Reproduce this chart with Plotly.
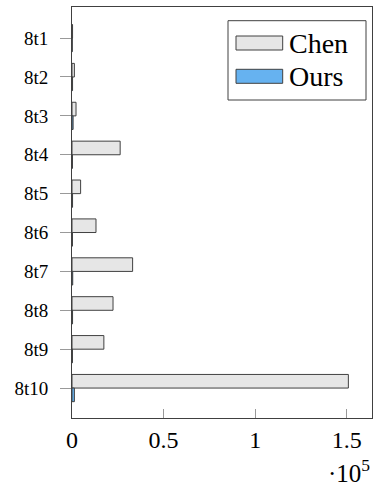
import plotly.graph_objects as go

# Runtime per instance (values in units; axis shown as multiples of 10^5)
instances = ["8t1", "8t2", "8t3", "8t4", "8t5", "8t6", "8t7", "8t8", "8t9", "8t10"]
chen_values = [300, 1300, 2200, 26300, 4700, 13100, 33100, 22400, 17400, 150900]
ours_values = [150, 300, 600, 250, 300, 250, 400, 300, 250, 1300]

x_tick_values = [0, 50000, 100000, 150000]
x_tick_labels = ["0", "0.5", "1", "1.5"]

FONT = "Liberation Serif"
CHEN_FILL = "#e6e6e6"
OURS_FILL = "#66b2f0"
EDGE = "#404040"

W, H = 376, 489
M_L, M_R, M_T, M_B = 72, 4, 7, 71
PW, PH = W - M_L - M_R, H - M_T - M_B


def px_x(p):
    return (p - M_L) / PW


def px_y(p):
    return (H - M_B - p) / PH


fig = go.Figure()
fig.add_trace(go.Bar(
    name="Chen", y=instances, x=chen_values, orientation="h",
    marker=dict(color=CHEN_FILL, line=dict(color=EDGE, width=1)),
    showlegend=False,
))
fig.add_trace(go.Bar(
    name="Ours", y=instances, x=ours_values, orientation="h",
    marker=dict(color=OURS_FILL, line=dict(color=EDGE, width=1)),
    showlegend=False,
))

# Hand-drawn legend box with wide swatches
shapes = [
    dict(type="rect", xref="paper", yref="paper",
         x0=px_x(228), x1=px_x(366), y0=px_y(100), y1=px_y(20.7),
         line=dict(color=EDGE, width=1), fillcolor="white", layer="above"),
    dict(type="rect", xref="paper", yref="paper",
         x0=px_x(236), x1=px_x(282.7), y0=px_y(50), y1=px_y(36),
         line=dict(color=EDGE, width=1), fillcolor=CHEN_FILL, layer="above"),
    dict(type="rect", xref="paper", yref="paper",
         x0=px_x(236), x1=px_x(282.7), y0=px_y(83.3), y1=px_y(69.3),
         line=dict(color=EDGE, width=1), fillcolor=OURS_FILL, layer="above"),
]
annotations = [
    dict(text="Chen", xref="paper", yref="paper", x=px_x(287), y=px_y(43),
         xanchor="left", yanchor="middle", showarrow=False,
         font=dict(family=FONT, size=28, color="black")),
    dict(text="Ours", xref="paper", yref="paper", x=px_x(287), y=px_y(76.5),
         xanchor="left", yanchor="middle", showarrow=False,
         font=dict(family=FONT, size=28, color="black")),
    dict(text="·10<sup>5</sup>", xref="paper", yref="paper", x=1.0, y=px_y(471),
         xanchor="right", yanchor="middle", showarrow=False,
         font=dict(family=FONT, size=25, color="black")),
]

fig.update_layout(
    width=W, height=H,
    margin=dict(l=M_L, r=M_R, t=M_T, b=M_B, pad=0),
    paper_bgcolor="white", plot_bgcolor="white",
    barmode="group", bargap=0.3, bargroupgap=0,
    shapes=shapes, annotations=annotations,
    font=dict(family=FONT, color="black"),
)
fig.update_xaxes(
    range=[0, 163800],
    tickvals=x_tick_values, ticktext=x_tick_labels,
    ticks="inside", ticklen=9, tickcolor="#999999", tickwidth=1,
    showline=True, linecolor=EDGE, linewidth=1, mirror=True,
    showgrid=False, zeroline=False,
    tickfont=dict(family=FONT, size=24, color="black"),
)
fig.update_yaxes(
    categoryorder="array", categoryarray=instances,
    range=[9.77, -0.8],
    ticks="outside", ticklen=11, tickcolor="#999999", tickwidth=1,
    ticklabelstandoff=8,
    showline=True, linecolor=EDGE, linewidth=1, mirror=True,
    showgrid=False, zeroline=False,
    tickfont=dict(family=FONT, size=19, color="black"),
)

fig.write_html("out.html")
